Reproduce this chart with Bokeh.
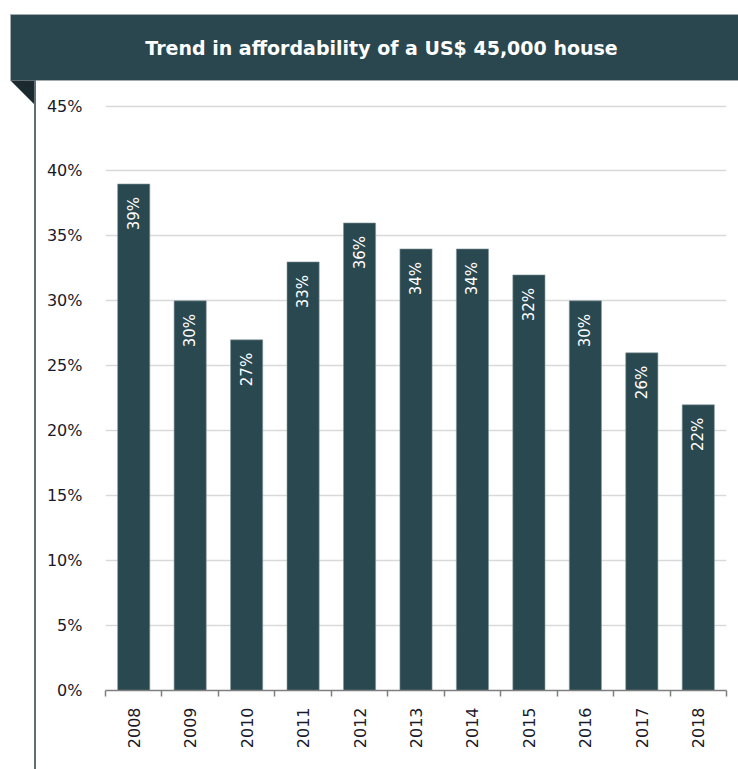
import math
from bokeh.plotting import figure
from bokeh.layouts import column, row
from bokeh.models import Range1d, FixedTicker, PrintfTickFormatter, ColumnDataSource, Div
from bokeh.core.properties import value
from bokeh.embed import file_html
from bokeh.resources import INLINE

years = ["2008", "2009", "2010", "2011", "2012", "2013", "2014", "2015", "2016", "2017", "2018"]
affordability = [39, 30, 27, 33, 36, 34, 34, 32, 30, 26, 22]
y_ticks = [0, 5, 10, 15, 20, 25, 30, 35, 40, 45]
title_text = "Trend in affordability of a US$ 45,000 house"

BAR = "#2a4850"
BANNER = "#2a474f"
FOLD = "#1b2a2f"
RULE = "#5d6e74"
FONT = "DejaVu Sans"

HEADER_H = 95
BODY_H = 769 - HEADER_H


def blank(fig):
    fig.axis.visible = False
    fig.grid.visible = False
    fig.outline_line_color = None
    fig.background_fill_color = "white"
    fig.border_fill_color = "white"
    return fig


# ---- header: banner with title, corner fold, start of the left rule
header = blank(figure(width=738, height=HEADER_H, output_backend="svg", toolbar_location=None,
                      x_range=Range1d(0, 738), y_range=Range1d(HEADER_H, 0),
                      min_border=0))
header.quad(left=[10], right=[745], top=[14], bottom=[80], fill_color=BANNER,
            line_color="#a3adb0", line_width=1)
header.patch(x=[10, 35, 35], y=[80, 80, 105], fill_color=FOLD, line_color=None)
header.segment(x0=[34.5], y0=[80], x1=[34.5], y1=[HEADER_H], line_color=RULE, line_width=2)
header.text(x=[381], y=[47], text=[title_text], text_align="center",
            text_baseline="middle", text_color="white", text_font=value(FONT),
            text_font_style="bold", text_font_size="19px")

# ---- left strip: end of the corner fold and the vertical rule
strip = Div(text=(f'<div style="position:relative;width:36px;height:{BODY_H}px;">'
                  f'<div style="position:absolute;left:25px;top:0;width:0;height:0;'
                  f'border-top:10px solid {FOLD};border-left:10px solid transparent;"></div>'
                  f'<div style="position:absolute;left:34px;top:0;width:2px;height:{BODY_H}px;'
                  f'background:{RULE};"></div></div>'),
            width=36, height=BODY_H, margin=0)

# ---- main chart
centers = [i + 0.5 for i in range(len(years))]
src = ColumnDataSource(dict(x=centers, top=affordability,
                            label=[f"{v}%" for v in affordability]))

p = figure(width=702, height=BODY_H, output_backend="svg", toolbar_location=None,
           x_range=Range1d(0, len(years)), y_range=Range1d(0, 45.12),
           min_border_left=69, min_border_right=12, min_border_top=9,
           min_border_bottom=79)
p.outline_line_color = None
p.background_fill_color = "white"
p.border_fill_color = "white"

p.vbar(x="x", top="top", width=0.57, bottom=0, source=src, fill_color=BAR,
       line_color="#8a9a9e", line_width=0.6)
p.text(x="x", y="top", text="label", source=src, angle=math.pi / 2,
       text_align="right", text_baseline="middle", y_offset=13,
       text_color="white", text_font=value(FONT), text_font_size="15px")

p.yaxis.ticker = FixedTicker(ticks=y_ticks)
p.yaxis.formatter = PrintfTickFormatter(format="%d%%")
p.yaxis.axis_line_color = None
p.yaxis.major_tick_line_color = None
p.yaxis.minor_tick_line_color = None
p.yaxis.major_label_standoff = 17
p.yaxis.major_label_text_font = FONT
p.yaxis.major_label_text_font_size = "16px"
p.yaxis.major_label_text_color = "#1a1a2a"

p.xaxis.ticker = FixedTicker(ticks=centers, minor_ticks=list(range(len(years) + 1)))
p.xaxis.major_label_overrides = {c: y for c, y in zip(centers, years)}
p.xaxis.major_label_orientation = math.pi / 2
p.xaxis.axis_line_color = "#7f7f7f"
p.xaxis.axis_line_width = 1.5
p.xaxis.major_tick_line_color = None
p.xaxis.major_tick_out = 0
p.xaxis.minor_tick_line_color = "#7f7f7f"
p.xaxis.minor_tick_line_width = 1.5
p.xaxis.minor_tick_out = 6
p.xaxis.minor_tick_in = 0
p.xaxis.major_label_standoff = 11
p.xaxis.major_label_text_font = FONT
p.xaxis.major_label_text_font_size = "16px"
p.xaxis.major_label_text_color = "#1a1a2a"

p.xgrid.grid_line_color = None
p.ygrid.ticker = FixedTicker(ticks=y_ticks)
p.ygrid.grid_line_color = "#d9d9d9"
p.ygrid.grid_line_width = 1.5

layout = column(header, row(strip, p, spacing=0), spacing=0)
open("out.html", "w").write(file_html(layout, INLINE))
